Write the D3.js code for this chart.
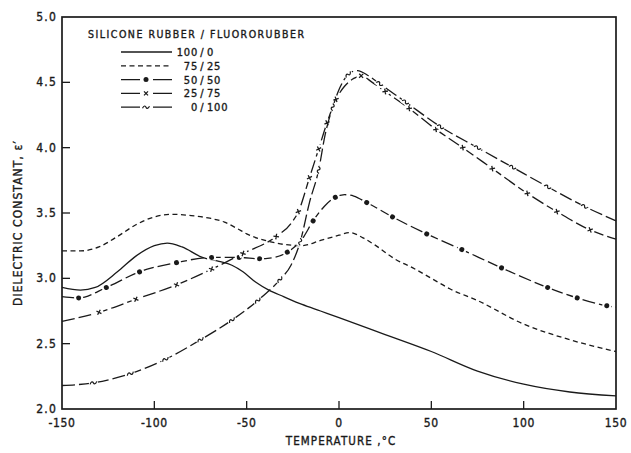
<!DOCTYPE html>
<html>
<head>
<meta charset="utf-8">
<script src="https://cdn.jsdelivr.net/npm/d3@7"></script>
<style>
  body { margin: 0; background: #fff; }
  svg text { font-family: "DejaVu Sans Condensed", "DejaVu Sans", sans-serif; fill: #1a1a1a; stroke: #1a1a1a; stroke-width: 0.35; }
</style>
</head>
<body>
<div id="chart"></div>
<script>
// values: [temperature °C, dielectric constant]
var s100_0 = [[-150,2.93],[-140,2.91],[-132,2.93],[-120,3.05],[-110,3.17],[-100,3.25],[-93,3.27],[-85,3.24],[-74,3.16],[-65,3.13],[-58,3.10],[-52,3.05],[-45,2.97],[-38,2.91],[-30,2.86],[-20,2.80],[-10,2.75],[0,2.70],[25,2.57],[50,2.44],[75,2.29],[100,2.19],[125,2.13],[150,2.10]];
var s75_25 = [[-150,3.21],[-140,3.21],[-130,3.24],[-120,3.32],[-110,3.41],[-100,3.47],[-90,3.49],[-80,3.48],[-70,3.46],[-62,3.43],[-55,3.38],[-50,3.34],[-40,3.29],[-30,3.26],[-20,3.25],[-10,3.29],[0,3.33],[6,3.35],[13,3.31],[20,3.25],[30,3.15],[40,3.08],[50,3.00],[60,2.92],[75,2.83],[100,2.65],[125,2.53],[150,2.44]];
var s50_50 = [[-150,2.86],[-141,2.85],[-126,2.93],[-108,3.05],[-88,3.12],[-69,3.16],[-54,3.16],[-43,3.15],[-35,3.16],[-28,3.20],[-20,3.30],[-14,3.44],[-8,3.55],[-2,3.62],[3,3.64],[8,3.63],[15,3.58],[29,3.47],[47.5,3.34],[66.5,3.22],[88,3.08],[113,2.93],[129,2.85],[145,2.79],[150,2.78]];
var s25_75 = [[-150,2.67],[-130,2.74],[-110,2.84],[-88,2.95],[-69,3.07],[-52,3.19],[-34,3.32],[-26,3.42],[-22,3.51],[-16,3.77],[-11,3.99],[-6.5,4.19],[-1.6,4.37],[3,4.47],[8,4.53],[12,4.55],[18,4.50],[25,4.43],[38,4.30],[52.5,4.14],[67,4.00],[83,3.84],[102,3.65],[118,3.51],[136,3.37],[150,3.30]];
var s0_100 = [[-150,2.18],[-133,2.20],[-113,2.27],[-94,2.38],[-75,2.53],[-58,2.68],[-44,2.83],[-32,2.99],[-26,3.10],[-21,3.28],[-16,3.58],[-11,3.83],[-7.5,4.10],[-3.4,4.31],[0.5,4.46],[5,4.56],[10,4.59],[16,4.55],[22,4.49],[36,4.35],[55,4.16],[75,4.00],[94,3.85],[113,3.70],[133,3.55],[150,3.44]];

var marks50_50 = [-141,-126,-108,-88,-69,-54,-43,-28,-14,-2,15,29,47.5,66.5,88,113,129,145];
var marks25_75 = [-130,-110,-88,-69,-52,-34,-22,-16,-11,-6.5,-1.6,12,25,38,52.5,67,83,102,118,136];
var marks0_100 = [-133,-113,-94,-75,-58,-44,-32,-21,-11,-3.4,5,22,36,55,75,94,113,133];

var legendLeft = ["100", "75", "50", "25", "0"];
var legendRight = ["0", "25", "50", "75", "100"];
var xTicks = [-150, -100, -50, 0, 50, 100, 150];
var yTicks = [2.0, 2.5, 3.0, 3.5, 4.0, 4.5, 5.0];

var svgWidth = 631, svgHeight = 453;
var margin = {top: 17, right: 15, bottom: 44, left: 62};
var width = svgWidth - margin.left - margin.right;
var height = svgHeight - margin.top - margin.bottom;

var svg = d3.select("#chart").append("svg")
  .attr("width", svgWidth)
  .attr("height", svgHeight);

var g = svg.append("g")
  .attr("transform", `translate(${margin.left}, ${margin.top})`);

var x = d3.scaleLinear().domain([-150, 150]).range([0, width]);
var y = d3.scaleLinear().domain([2, 5]).range([height, 0]);

var ink = "#1a1a1a";

// frame
g.append("rect")
  .attr("width", width).attr("height", height)
  .attr("fill", "none").attr("stroke", ink).attr("stroke-width", 1.7);

// inward ticks, bottom and left
g.append("g").selectAll("line").data(xTicks.slice(1, -1)).enter().append("line")
  .attr("x1", d => x(d)).attr("x2", d => x(d))
  .attr("y1", height).attr("y2", height - 8)
  .attr("stroke", ink).attr("stroke-width", 1.3);
g.append("g").selectAll("line").data(yTicks.slice(1, -1)).enter().append("line")
  .attr("x1", 0).attr("x2", 8)
  .attr("y1", d => y(d)).attr("y2", d => y(d))
  .attr("stroke", ink).attr("stroke-width", 1.3);

g.append("g").selectAll("text").data(xTicks).enter().append("text")
  .attr("x", d => x(d)).attr("y", height + 18)
  .attr("text-anchor", "middle")
  .attr("font-size", 12).attr("letter-spacing", 0.6)
  .text(d => d);
g.append("g").selectAll("text").data(yTicks).enter().append("text")
  .attr("x", -5).attr("y", d => y(d) + 4)
  .attr("text-anchor", "end")
  .attr("font-size", 12)
  .attr("letter-spacing", 1.2)
  .text(d => d.toFixed(1));

g.append("text")
  .attr("x", width / 2 + 2).attr("y", height + 36)
  .attr("text-anchor", "middle")
  .attr("font-size", 11.5).attr("letter-spacing", 1.1)
  .text("TEMPERATURE ,°C");

g.append("text")
  .attr("transform", `translate(${-40}, ${height / 2 + 10}) rotate(-90)`)
  .attr("text-anchor", "middle")
  .attr("font-size", 12).attr("letter-spacing", 1.1)
  .text("DIELECTRIC CONSTANT, ε′");

var line = d3.line()
  .x(d => x(d[0])).y(d => y(d[1]))
  .curve(d3.curveMonotoneX);

var series = [
  {data: s100_0, dash: null, marks: null, kind: null},
  {data: s75_25, dash: "5 3.5", marks: null, kind: null},
  {data: s50_50, dash: "13 4", marks: marks50_50, kind: "dot"},
  {data: s25_75, dash: "13 4", marks: marks25_75, kind: "cross"},
  {data: s0_100, dash: "13 4", marks: marks0_100, kind: "tilde"}
];

// point on a series at temperature t, from its own drawn path
function pointAt(path, t) {
  var node = path.node(), len = node.getTotalLength();
  var lo = 0, hi = len, px = x(t);
  for (var i = 0; i < 30; i++) {
    var mid = (lo + hi) / 2;
    if (node.getPointAtLength(mid).x < px) lo = mid; else hi = mid;
  }
  var p = node.getPointAtLength(lo);
  var a = node.getPointAtLength(Math.max(0, lo - 3)), b = node.getPointAtLength(Math.min(len, lo + 3));
  return {x: p.x, y: p.y, angle: Math.atan2(b.y - a.y, b.x - a.x) * 180 / Math.PI};
}

function drawMark(sel, kind) {
  if (kind === "dot") {
    sel.append("circle").attr("r", 2.5).attr("fill", ink);
  } else if (kind === "cross") {
    sel.append("path").attr("d", "M-2,-2L2,2M-2,2L2,-2")
      .attr("stroke", ink).attr("stroke-width", 1.3).attr("fill", "none");
  } else if (kind === "tilde") {
    sel.append("path").attr("d", "M-3.5,1C-2,-2 -0.5,-1.5 0,0S2,1.8 3.5,-1")
      .attr("stroke", ink).attr("stroke-width", 1.2).attr("fill", "none");
  }
}

series.forEach(function(s) {
  var p = g.append("path")
    .datum(s.data)
    .attr("d", line)
    .attr("fill", "none")
    .attr("stroke", ink)
    .attr("stroke-width", 1.3)
    .attr("stroke-dasharray", s.dash);
  if (s.marks) {
    s.marks.forEach(function(t) {
      var pt = pointAt(p, t);
      var m = g.append("g").attr("transform", `translate(${pt.x},${pt.y}) rotate(${pt.angle})`);
      m.append("rect").attr("x", -4.5).attr("y", -3).attr("width", 9).attr("height", 6).attr("fill", "#fff");
      drawMark(m, s.kind);
    });
  }
});

// legend
var leg = g.append("g");
leg.append("text")
  .attr("x", 26).attr("y", 21)
  .attr("font-size", 10.5).attr("letter-spacing", 1.5)
  .text("SILICONE RUBBER / FLUORORUBBER");

series.forEach(function(s, i) {
  var yy = 35 + i * 13.8;
  leg.append("line")
    .attr("x1", 59).attr("x2", 110)
    .attr("y1", yy).attr("y2", yy)
    .attr("stroke", ink).attr("stroke-width", 1.3)
    .attr("stroke-dasharray", s.dash ? (s.kind ? "19 13" : "5 3.5") : null);
  if (s.kind) {
    var m = leg.append("g").attr("transform", `translate(${84},${yy})`);
    drawMark(m, s.kind);
  }
  leg.append("text").attr("x", 136).attr("y", yy + 4)
    .attr("text-anchor", "end").attr("font-size", 11).attr("letter-spacing", 0.8)
    .text(legendLeft[i]);
  leg.append("text").attr("x", 140).attr("y", yy + 4)
    .attr("text-anchor", "middle").attr("font-size", 11)
    .text("/");
  leg.append("text").attr("x", 145).attr("y", yy + 4)
    .attr("font-size", 11).attr("letter-spacing", 0.8)
    .text(legendRight[i]);
});
</script>
</body>
</html>
